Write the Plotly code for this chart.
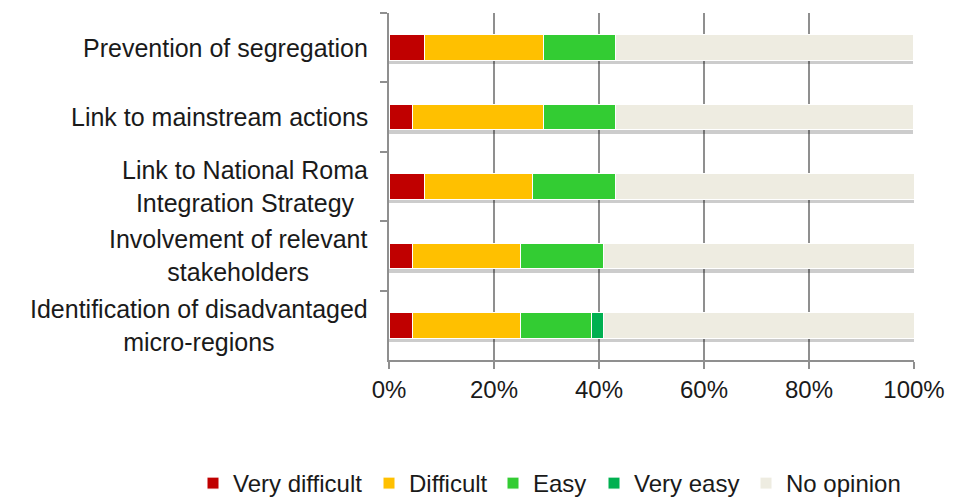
import plotly.graph_objects as go

categories = [
    "Prevention of segregation",
    "Link to mainstream actions",
    "Link to National Roma<br>Integration Strategy",
    "Involvement of relevant<br>stakeholders",
    "Identification of disadvantaged<br>micro-regions",
]
series_names = ["Very difficult", "Difficult", "Easy", "Very easy", "No opinion"]
very_difficult = [6.8, 4.5, 6.8, 4.5, 4.5]
difficult = [22.7, 25.0, 20.5, 20.5, 20.5]
easy = [13.6, 13.6, 15.9, 15.9, 13.6]
very_easy = [0.0, 0.0, 0.0, 0.0, 2.3]
no_opinion = [56.8, 56.8, 56.8, 59.1, 59.1]
x_ticks = [0, 20, 40, 60, 80, 100]
x_tick_labels = ["0%", "20%", "40%", "60%", "80%", "100%"]

colors = ["#C00000", "#FFC000", "#33CC33", "#00B050", "#EEECE1"]
series = [very_difficult, difficult, easy, very_easy, no_opinion]
# left pixel position of each legend entry's text (one legend per series)
legend_text_px = [233, 409, 533, 634, 786]

W, H = 957, 497
FONT = "Liberation Sans, Arial, sans-serif"
TXT = "#1a1a1a"
GRID = "#8f8f8f"

fig = go.Figure()

# soft drop shadow under each bar (main y axis, range slightly shifted)
totals = [sum(v) for v in zip(*series)]
fig.add_trace(go.Bar(
    y=categories, x=totals, orientation="h", yaxis="y",
    marker=dict(color="rgba(0,0,0,0.20)", line=dict(width=0)),
    showlegend=False, hoverinfo="skip",
))

legend_ids = ["legend"] + [f"legend{i}" for i in range(2, len(series_names) + 1)]
for name, vals, col, lid in zip(series_names, series, colors, legend_ids):
    fig.add_trace(go.Bar(
        y=categories, x=vals, name=name, orientation="h", yaxis="y2",
        marker=dict(color=col, line=dict(color="white", width=1)),
        legend=lid,
    ))

n = len(categories)
shift = 0.055
layout_legends = {}
for lid, px in zip(legend_ids, legend_text_px):
    layout_legends[lid] = dict(
        orientation="h", xref="container", x=(px - 30) / W, xanchor="left",
        yref="container", y=1 - 483.5 / H, yanchor="middle",
        font=dict(size=24, color=TXT, family=FONT),
        itemwidth=30, indentation=-10, bgcolor="rgba(0,0,0,0)",
    )

fig.update_layout(
    width=W, height=H,
    margin=dict(l=389, r=35, t=13, b=137),
    paper_bgcolor="white", plot_bgcolor="white",
    barmode="stack", bargap=0.63,
    font=dict(family=FONT, size=22, color=TXT),
    xaxis=dict(
        range=[0, 100], tickmode="array", tickvals=x_ticks, ticktext=x_tick_labels,
        showgrid=True, gridcolor=GRID, gridwidth=2,
        zeroline=False, showline=True, linecolor=GRID, linewidth=2,
        ticks="outside", ticklen=7, tickcolor=GRID, tickwidth=2,
        tickfont=dict(size=24, color=TXT, family=FONT),
        fixedrange=True,
    ),
    yaxis=dict(
        type="category", categoryorder="array", categoryarray=categories,
        range=[n - 0.5 - shift, -0.5 - shift], visible=False, fixedrange=True,
    ),
    yaxis2=dict(
        type="category", categoryorder="array", categoryarray=categories,
        range=[n - 0.5, -0.5], overlaying="y", side="left",
        showticklabels=False, showgrid=False,
        showline=True, linecolor=GRID, linewidth=2,
        ticks="outside", tickson="boundaries", ticklen=7,
        tickcolor=GRID, tickwidth=2, fixedrange=True,
    ),
    **layout_legends,
)

for cat in categories:
    fig.add_annotation(
        x=-0.037, xref="paper", xanchor="right",
        y=cat, yref="y2", yanchor="middle",
        text=cat, showarrow=False, align="center",
        font=dict(size=25, color=TXT, family=FONT),
    )

fig.write_html(
    "out.html",
    config={"displayModeBar": False},
    post_script="document.body.style.margin='0px';",
)
